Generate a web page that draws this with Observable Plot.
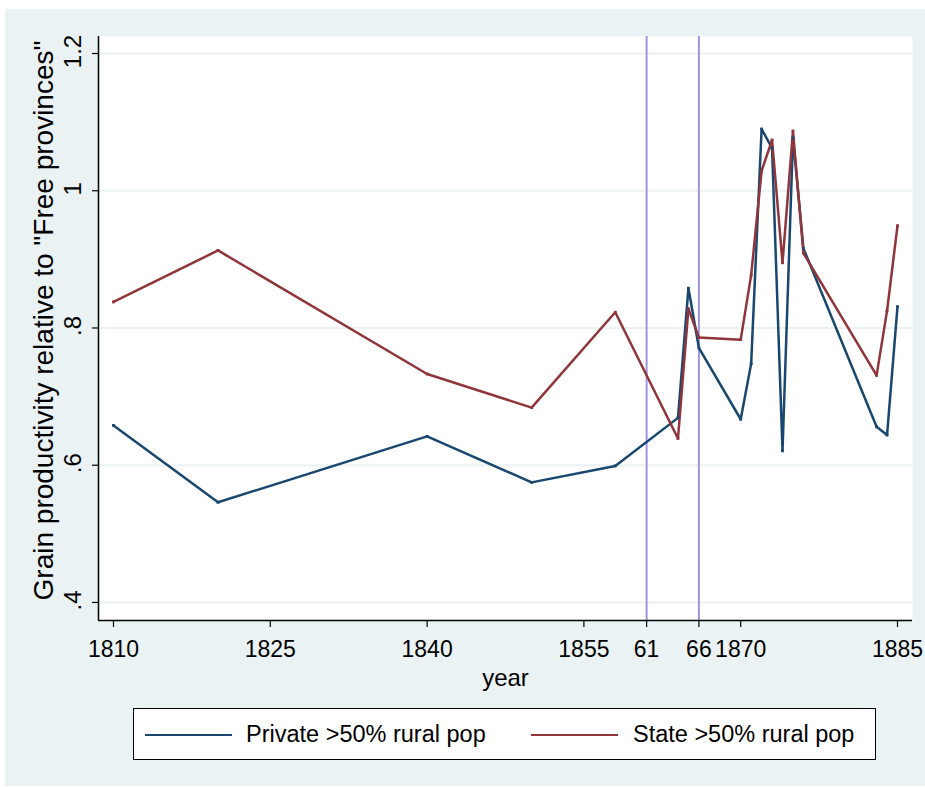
<!DOCTYPE html>
<html>
<head>
<meta charset="utf-8">
<script src="https://cdn.jsdelivr.net/npm/d3@7"></script>
<script src="https://cdn.jsdelivr.net/npm/@observablehq/plot@0.6"></script>
<style>
  body { margin: 0; background: #ffffff; font-family: "Liberation Sans", Arial, Helvetica, sans-serif; }
  #wrap { position: absolute; left: 5px; top: 9px; width: 920px; height: 777px; background: #eaf2f3; }
  #legend { position: absolute; left: 128px; top: 699px; width: 741px; height: 50px; background: #ffffff; border: 1.5px solid #000; }
  .sw { position: absolute; top: 25px; height: 2px; width: 87px; }
  .lt { position: absolute; top: 12px; font-size: 23.5px; line-height: 26px; color: #000; white-space: nowrap; }
</style>
</head>
<body>
<div id="wrap"></div>
<script>
const years = [1810, 1820, 1840, 1850, 1858, 1864, 1865, 1866, 1870, 1871, 1872, 1873, 1874, 1875, 1876, 1883, 1884, 1885];
const privateVals = [0.658, 0.546, 0.642, 0.575, 0.599, 0.669, 0.858, 0.771, 0.667, 0.748, 1.090, 1.062, 0.621, 1.077, 0.916, 0.656, 0.644, 0.831];
const stateVals = [0.838, 0.913, 0.733, 0.684, 0.823, 0.639, 0.828, 0.786, 0.783, 0.877, 1.029, 1.074, 0.895, 1.087, 0.909, 0.731, 0.825, 0.949];
const seriesNames = ["Private >50% rural pop", "State >50% rural pop"];
const seriesColors = ["#1a476f", "#90353b"];
const xTicks = [1810, 1825, 1840, 1855, 1861, 1866, 1870, 1885];
const xTickLabels = ["1810", "1825", "1840", "1855", "61", "66", "1870", "1885"];
const yTicks = [0.4, 0.6, 0.8, 1.0, 1.2];
const yTickLabels = [".4", ".6", ".8", "1", "1.2"];
const refYears = [1861, 1866];
const xTitle = "year";
const yTitle = "Grain productivity relative to \"Free provinces\"";

const privateData = years.map((x, i) => ({x, y: privateVals[i]}));
const stateData = years.map((x, i) => ({x, y: stateVals[i]}));
const xDomain = [1808.565, 1886.435];
const yDomain = [0.3737, 1.2248];
const bg = "#eaf2f3";

const chart = Plot.plot({
  width: 920,
  height: 690,
  marginLeft: 93,
  marginRight: 13,
  marginTop: 27,
  marginBottom: 79,
  x: {domain: xDomain},
  y: {domain: yDomain},
  style: {background: "transparent", fontFamily: "'Liberation Sans', Arial, Helvetica, sans-serif", fontSize: "23px", color: "#000", overflow: "visible"},
  marks: [
    Plot.frame({fill: "#ffffff", stroke: "none"}),
    Plot.ruleY(yTicks, {stroke: bg, strokeWidth: 2}),
    Plot.ruleX(refYears, {stroke: "#9f95dc", strokeWidth: 2}),
    Plot.line(privateData, {x: "x", y: "y", stroke: seriesColors[0], strokeWidth: 2.5}),
    Plot.line(stateData, {x: "x", y: "y", stroke: seriesColors[1], strokeWidth: 2.5}),
    Plot.dot(privateData, {x: "x", y: "y", symbol: "square", r: 1.6, fill: seriesColors[0]}),
    Plot.dot(stateData, {x: "x", y: "y", symbol: "square", r: 1.6, fill: seriesColors[1]}),
    Plot.ruleY([yDomain[0]], {stroke: "#000", strokeWidth: 1.5}),
    Plot.ruleX([xDomain[0]], {stroke: "#000", strokeWidth: 1.5}),
    Plot.axisX({ticks: xTicks, tickFormat: d => xTickLabels[xTicks.indexOf(d)], tickSize: 7, tickPadding: 13, label: null, fontSize: 23, strokeWidth: 1.2}),
    Plot.axisY({ticks: yTicks, tickFormat: () => "", tickSize: 6, label: null, strokeWidth: 1.2}),
    Plot.text(yTicks, {y: d => d, text: (d, i) => yTickLabels[i], frameAnchor: "left", textAnchor: "middle", dx: -25, dy: -2, rotate: -90, fontSize: 24}),
    Plot.text([yTitle], {frameAnchor: "left", textAnchor: "middle", dx: -54, dy: -8, rotate: -90, fontSize: 28}),
    Plot.text([xTitle], {frameAnchor: "bottom", dy: 65, fontSize: 24})
  ]
});
const wrap = document.getElementById("wrap");
wrap.appendChild(chart);

const legend = document.createElement("div");
legend.id = "legend";
const items = [{sx: 11, tx: 112}, {sx: 397, tx: 499}];
seriesNames.forEach((name, i) => {
  const sw = document.createElement("div");
  sw.className = "sw";
  sw.style.left = items[i].sx + "px";
  sw.style.background = seriesColors[i];
  const t = document.createElement("div");
  t.className = "lt";
  t.style.left = items[i].tx + "px";
  t.textContent = name;
  legend.appendChild(sw);
  legend.appendChild(t);
});
wrap.appendChild(legend);
</script>
</body>
</html>
